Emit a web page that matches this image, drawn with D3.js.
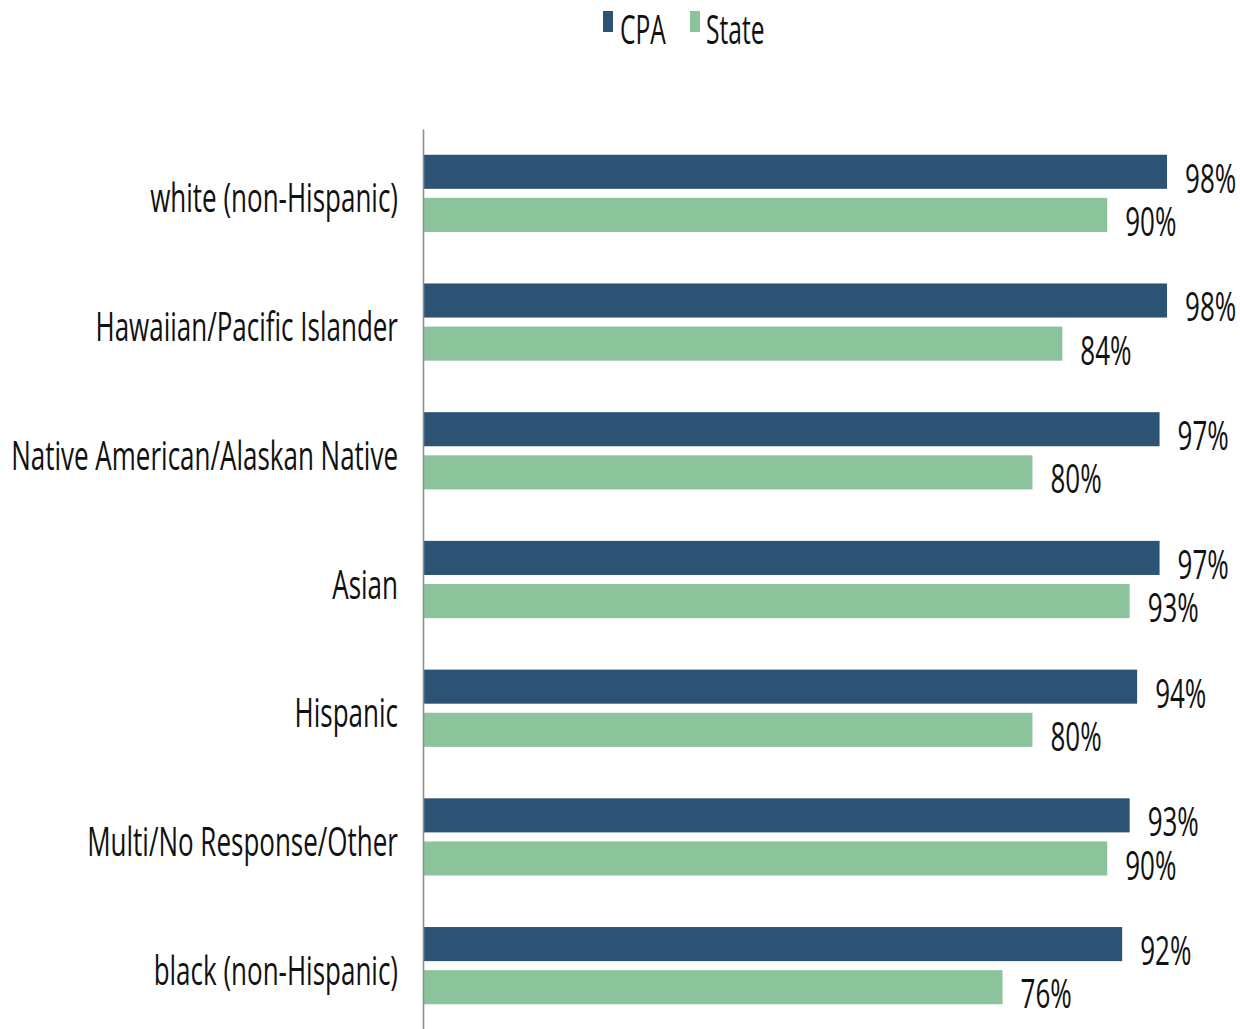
<!DOCTYPE html>
<html>
<head>
<meta charset="utf-8">
<script src="https://cdn.jsdelivr.net/npm/d3@7"></script>
<style>
  html, body { margin: 0; padding: 0; background: #fff; }
  svg { display: block; }
  text { font-family: "Open Sans", "Noto Sans", sans-serif; font-weight: 500; fill: #111; }
</style>
</head>
<body>
<svg id="chart" width="1240" height="1029"></svg>
<script>
// Categories, top to bottom
const categories = [
  "white (non-Hispanic)",
  "Hawaiian/Pacific Islander",
  "Native American/Alaskan Native",
  "Asian",
  "Hispanic",
  "Multi/No Response/Other",
  "black (non-Hispanic)"
];
const seriesNames = ["CPA", "State"];
const cpaValues   = [98, 98, 97, 97, 94, 93, 92];
const stateValues = [90, 84, 80, 93, 80, 90, 76];

const colors = { CPA: "#2c5374", State: "#8bc49b" };

// condensed lettering: horizontal squeeze applied to every text element
const SX = 0.65;
const SX_LEGEND = 0.6;
const FONT = 40;

const rows = categories.map((c, i) => ({
  category: c,
  values: [
    { key: "CPA", value: cpaValues[i] },
    { key: "State", value: stateValues[i] }
  ]
}));

const svg = d3.select("#chart");

const axisX = 423;
const x = d3.scaleLinear().domain([-1.5, 100]).range([axisX, 1182]);

const y = d3.scaleBand()
  .domain(categories)
  .range([129, 1030])
  .paddingInner(0.4)
  .paddingOuter(0.2);

const ySub = d3.scaleBand()
  .domain(seriesNames)
  .range([0, y.bandwidth()])
  .paddingInner(0.21)
  .paddingOuter(0);

// bars
const groups = svg.append("g").selectAll("g.cat")
  .data(rows)
  .join("g")
  .attr("class", "cat")
  .attr("transform", d => `translate(0,${y(d.category)})`);

groups.selectAll("rect")
  .data(d => d.values)
  .join("rect")
  .attr("x", x(x.domain()[0]))
  .attr("y", d => ySub(d.key))
  .attr("width", d => x(d.value) - x(x.domain()[0]))
  .attr("height", ySub.bandwidth())
  .attr("fill", d => colors[d.key]);

// value labels
groups.selectAll("text.val")
  .data(d => d.values)
  .join("text")
  .attr("class", "val")
  .attr("font-size", FONT)
  .attr("transform", d => `translate(${x(d.value) + 18},${ySub(d.key) + ySub.bandwidth() / 2 + 21}) scale(${SX},1)`)
  .text(d => d.value + "%");

// category axis
const axis = svg.append("g")
  .attr("transform", `translate(${axisX},0)`)
  .call(d3.axisLeft(y).tickSize(0).tickSizeOuter(0).tickPadding(0));

axis.select(".domain").attr("stroke", "#8f8f8f").attr("stroke-width", 1.6);
axis.selectAll(".tick text")
  .attr("x", 0)
  .attr("y", 0)
  .attr("dy", null)
  .attr("fill", "#111")
  .style("font-family", "\"Open Sans\", \"Noto Sans\", sans-serif")
  .style("font-weight", 500)
  .style("font-size", FONT + "px")
  .attr("transform", `translate(-25,19) scale(${SX},1)`);

// legend
const legend = svg.append("g");
const legendItems = [
  { key: "CPA", sx: 603, tx: 620 },
  { key: "State", sx: 690, tx: 706 }
];
legend.selectAll("rect")
  .data(legendItems)
  .join("rect")
  .attr("x", d => d.sx)
  .attr("y", 11)
  .attr("width", 10)
  .attr("height", 21)
  .attr("fill", d => colors[d.key]);
legend.selectAll("text")
  .data(legendItems)
  .join("text")
  .attr("font-size", 41)
  .attr("transform", d => `translate(${d.tx},44) scale(${SX_LEGEND},1)`)
  .text(d => d.key);
</script>
</body>
</html>
